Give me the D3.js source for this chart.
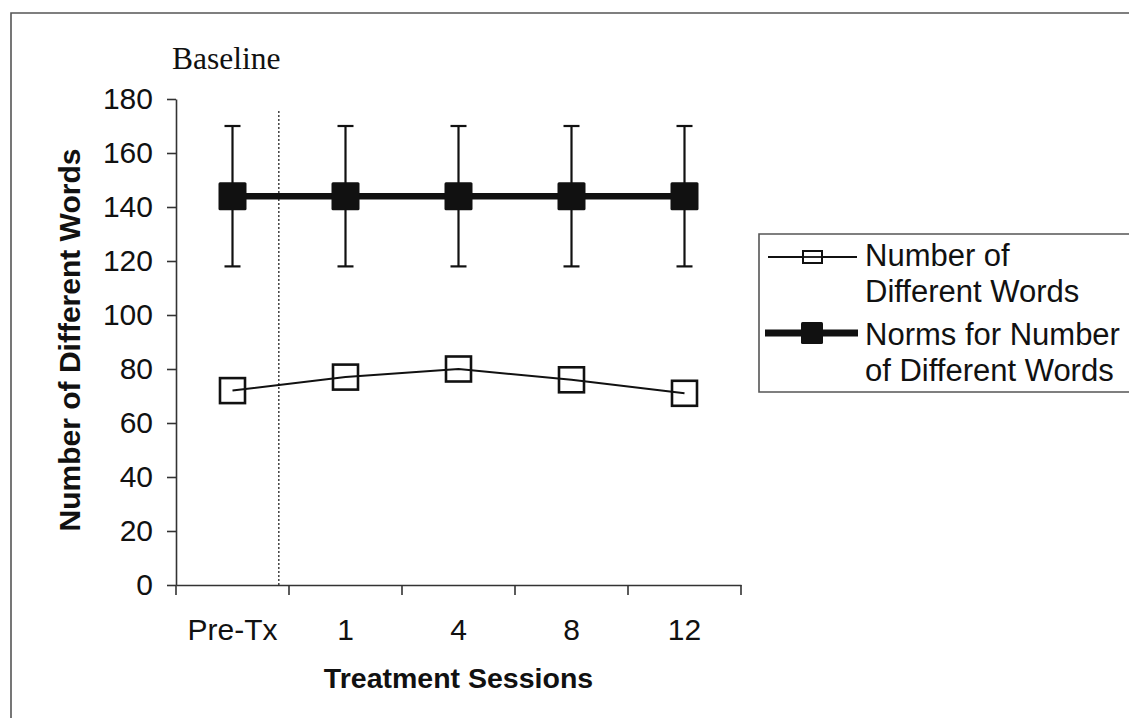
<!DOCTYPE html>
<html>
<head>
<meta charset="utf-8">
<script src="https://cdn.jsdelivr.net/npm/d3@7"></script>
<style>
  body { margin: 0; background: #fff; }
  svg { display: block; }
  text { font-family: "Liberation Sans", Arial, sans-serif; fill: #111; }
</style>
</head>
<body>
<div id="chart"></div>
<script>
// data
var sessions = ["Pre-Tx", "1", "4", "8", "12"];
var ndw = [72, 77, 80, 76, 71];
var normMean = [144, 144, 144, 144, 144];
var normSD = [26, 26, 26, 26, 26];
var yTicks = [0, 20, 40, 60, 80, 100, 120, 140, 160, 180];
var legendLabels = [["Number of", "Different Words"], ["Norms for Number", "of Different Words"]];

var W = 1129, H = 718;
var margin = {top: 99, left: 176, right: 388, bottom: 133};

var svg = d3.select("#chart")
    .append("svg")
        .attr("width", W)
        .attr("height", H);

// outer frame (top + left edges of the scanned figure)
svg.append("path")
    .attr("d", "M11,718 L11,13 L1129,13")
    .attr("fill", "none")
    .attr("stroke", "#555")
    .attr("stroke-width", 1.6);

var x = d3.scaleBand()
    .domain(sessions)
    .range([margin.left, W - margin.right])
    .padding(0);

var y = d3.scaleLinear()
    .domain([0, 180])
    .range([H - margin.bottom, margin.top]);

var cx = function(i) { return x(sessions[i]) + x.bandwidth() / 2; };

// y axis
var gy = svg.append("g")
    .attr("transform", "translate(" + margin.left + ",0)")
    .call(d3.axisLeft(y).tickValues(yTicks).tickSize(9).tickPadding(14).tickSizeOuter(0));
gy.select(".domain").attr("stroke", "#333").attr("stroke-width", 1.6);
gy.selectAll(".tick line").attr("stroke", "#333").attr("stroke-width", 1.6);
gy.selectAll("text").style("font-size", "30px").attr("font-family", null);

// x axis labels (centred in bands) + boundary ticks
var gx = svg.append("g")
    .attr("transform", "translate(0," + y(0) + ")")
    .call(d3.axisBottom(x).tickSize(0).tickPadding(34));
gx.select(".domain").attr("stroke", "#333").attr("stroke-width", 1.6);
gx.selectAll("text").style("font-size", "30px").attr("font-family", null);

var bounds = sessions.map(function(s) { return x(s); }).concat([x.range()[1]]);
gx.selectAll(".bound")
    .data(bounds)
    .enter()
    .append("line")
        .attr("x1", function(d) { return d; })
        .attr("x2", function(d) { return d; })
        .attr("y1", 0)
        .attr("y2", 10)
        .attr("stroke", "#333")
        .attr("stroke-width", 1.6);

// axis titles
svg.append("text")
    .attr("x", x.range()[0] + (x.range()[1] - x.range()[0]) / 2)
    .attr("y", 688)
    .attr("text-anchor", "middle")
    .style("font-size", "28.5px")
    .style("font-weight", "bold")
    .text("Treatment Sessions");

svg.append("text")
    .attr("transform", "translate(80,340) rotate(-90)")
    .attr("text-anchor", "middle")
    .style("font-size", "30px")
    .style("font-weight", "bold")
    .text("Number of Different Words");

// baseline phase label and phase-change line
svg.append("text")
    .attr("x", 172)
    .attr("y", 69)
    .style("font-family", "'Liberation Serif', 'Times New Roman', serif")
    .style("font-size", "31.5px")
    .text("Baseline");

var phaseX = x("Pre-Tx") + x.bandwidth() * 0.91;
svg.append("line")
    .attr("x1", phaseX).attr("x2", phaseX)
    .attr("y1", y(0)).attr("y2", 109)
    .attr("stroke", "#222")
    .attr("stroke-width", 1.3)
    .attr("stroke-dasharray", "2,2");

// norms: error bars
var errG = svg.append("g");
errG.selectAll(".eb")
    .data(normMean)
    .enter()
    .append("line")
        .attr("x1", function(d, i) { return cx(i); })
        .attr("x2", function(d, i) { return cx(i); })
        .attr("y1", function(d, i) { return y(d - normSD[i]); })
        .attr("y2", function(d, i) { return y(d + normSD[i]); })
        .attr("stroke", "#111")
        .attr("stroke-width", 2.2);
["top", "bot"].forEach(function(k) {
    errG.selectAll(".cap-" + k)
        .data(normMean)
        .enter()
        .append("line")
            .attr("x1", function(d, i) { return cx(i) - 8; })
            .attr("x2", function(d, i) { return cx(i) + 8; })
            .attr("y1", function(d, i) { return y(k == "top" ? d + normSD[i] : d - normSD[i]); })
            .attr("y2", function(d, i) { return y(k == "top" ? d + normSD[i] : d - normSD[i]); })
            .attr("stroke", "#111")
            .attr("stroke-width", 2.2);
});

// norms line + filled squares
var line = d3.line()
    .x(function(d, i) { return cx(i); })
    .y(function(d) { return y(d); });

svg.append("path")
    .datum(normMean)
    .attr("d", line)
    .attr("fill", "none")
    .attr("stroke", "#111")
    .attr("stroke-width", 6.5);

svg.selectAll(".normpt")
    .data(normMean)
    .enter()
    .append("rect")
        .attr("x", function(d, i) { return cx(i) - 14; })
        .attr("y", function(d) { return y(d) - 14; })
        .attr("width", 28)
        .attr("height", 28)
        .attr("rx", 1.5)
        .attr("fill", "#111");

// observed NDW line + open squares
svg.append("path")
    .datum(ndw)
    .attr("d", line)
    .attr("fill", "none")
    .attr("stroke", "#111")
    .attr("stroke-width", 2);

svg.selectAll(".ndwpt")
    .data(ndw)
    .enter()
    .append("rect")
        .attr("x", function(d, i) { return cx(i) - 12.5; })
        .attr("y", function(d) { return y(d) - 12.5; })
        .attr("width", 25)
        .attr("height", 25)
        .attr("fill", "none")
        .attr("stroke", "#111")
        .attr("stroke-width", 2.6);

// legend
var lg = svg.append("g");
lg.append("path")
    .attr("d", "M1131,234 L759,234 L759,392 L1131,392")
    .attr("fill", "none")
    .attr("stroke", "#555")
    .attr("stroke-width", 1.6);

// entry 1
lg.append("line")
    .attr("x1", 768).attr("x2", 857).attr("y1", 257).attr("y2", 257)
    .attr("stroke", "#111").attr("stroke-width", 1.8);
lg.append("rect")
    .attr("x", 803).attr("y", 251).attr("width", 19).attr("height", 12)
    .attr("fill", "#fff").attr("stroke", "#111").attr("stroke-width", 2);
lg.append("line")
    .attr("x1", 803).attr("x2", 822).attr("y1", 257).attr("y2", 257)
    .attr("stroke", "#111").attr("stroke-width", 1.8);

// entry 2
lg.append("line")
    .attr("x1", 765).attr("x2", 858).attr("y1", 333).attr("y2", 333)
    .attr("stroke", "#111").attr("stroke-width", 7);
lg.append("rect")
    .attr("x", 801).attr("y", 322).attr("width", 22).attr("height", 22)
    .attr("rx", 1.5)
    .attr("fill", "#111");

var baselines = [[266, 302], [345, 381]];
legendLabels.forEach(function(lines, k) {
    lines.forEach(function(t, j) {
        lg.append("text")
            .attr("x", 865)
            .attr("y", baselines[k][j])
            .style("font-size", "31px")
            .text(t);
    });
});
</script>
</body>
</html>
